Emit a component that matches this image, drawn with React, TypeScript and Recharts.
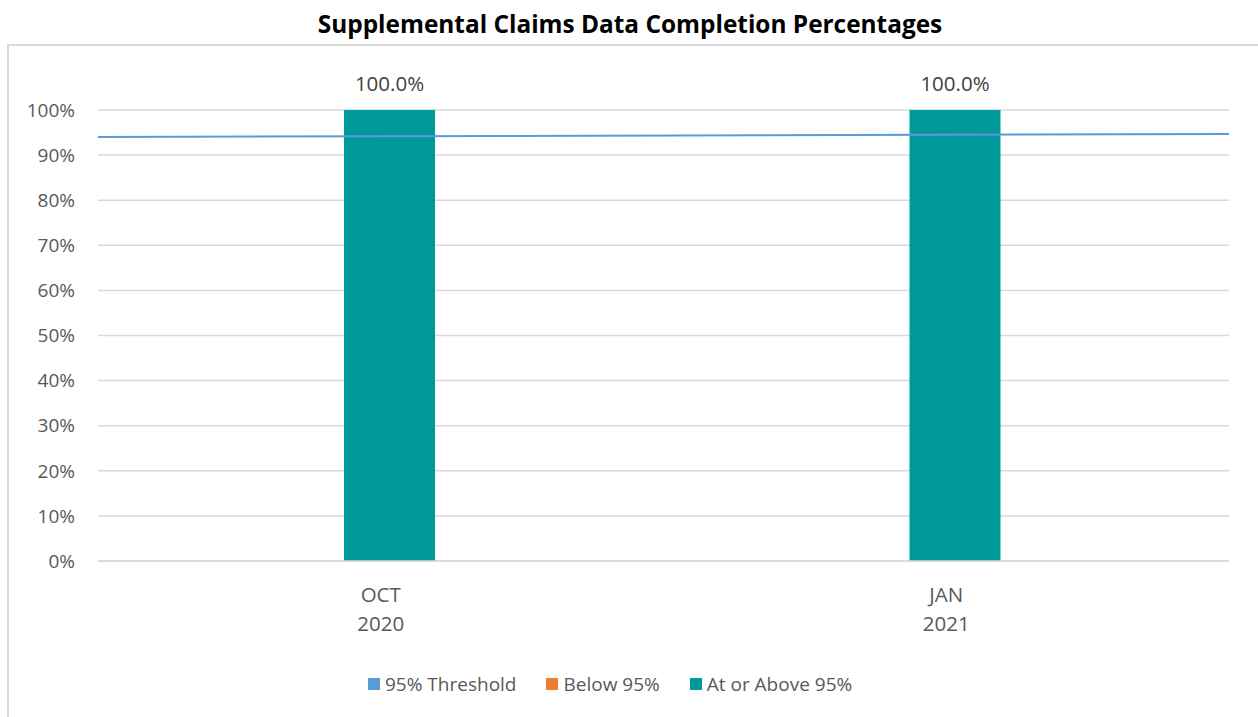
import React from 'react';
import { ComposedChart, Bar, XAxis, YAxis, CartesianGrid, LabelList, ReferenceLine } from 'recharts';

const months = ['OCT', 'JAN'];
const years = ['2020', '2021'];
const belowValues = [0, 0];
const atOrAboveValues = [100.0, 100.0];
// threshold line runs from left to right edge of the plot
const thresholdEnds = [94.0, 94.7];
const yTicks = [0, 10, 20, 30, 40, 50, 60, 70, 80, 90, 100];

const legendItems = [
    { name: '95% Threshold', color: '#5B9BD5' },
    { name: 'Below 95%', color: '#ED7D31' },
    { name: 'At or Above 95%', color: '#009999' },
];

const FONT = '"Open Sans", sans-serif';
const TEXT = '#595959';

const data = months.map((m, i) => ({
    month: m,
    year: years[i],
    label: `${m} ${years[i]}`,
    below: belowValues[i],
    above: atOrAboveValues[i],
}));

const CategoryTick: React.FC<any> = ({ x, y, payload }) => {
    const [m, yr] = String(payload.value).split(' ');
    return (
        <text x={x} y={y} textAnchor="middle" fill={TEXT} fontSize={20.5} fontFamily={FONT}>
            <tspan x={x} dy={39}>{m}</tspan>
            <tspan x={x} dy={29}>{yr}</tspan>
        </text>
    );
};

export default function App() {
    return (
        <div style={{ position: 'absolute', left: 0, top: 0, width: 1258, height: 717, background: '#fff', fontFamily: FONT, overflow: 'hidden' }}>
            <div style={{ position: 'absolute', left: 7, top: 44, width: 1260, height: 700, borderLeft: '2px solid #d9d9d9', borderTop: '2px solid #d9d9d9' }} />
            <div style={{ position: 'absolute', left: 0, top: 7, width: 1260, textAlign: 'center', fontWeight: 700, fontSize: 24.4, color: '#000' }}>
                Supplemental Claims Data Completion Percentages
            </div>
            <div style={{ position: 'absolute', left: 0, top: 0 }}>
                <ComposedChart width={1258} height={717} data={data} margin={{ top: 110, right: 29, bottom: 0, left: 0 }} barGap={-73}>
                    <CartesianGrid vertical={false} stroke="#d9d9d9" strokeWidth={1.5} />
                    <XAxis dataKey="label" tick={<CategoryTick />} tickLine={false} tickSize={0} axisLine={{ stroke: '#d9d9d9', strokeWidth: 1.5 }} interval={0} height={156} />
                    <XAxis xAxisId="t" type="number" domain={[0, 1]} hide />
                    <YAxis domain={[0, 100]} ticks={yTicks} tickFormatter={(v) => `${v}%`} width={98} tickSize={0} tickMargin={23}
                        axisLine={false} tickLine={false} tick={{ fill: TEXT, fontSize: 19, fontFamily: FONT }} interval={0} />
                    <Bar dataKey="below" name="Below 95%" fill="#ED7D31" barSize={91} isAnimationActive={false} />
                    <Bar dataKey="above" name="At or Above 95%" fill="#009999" barSize={91} isAnimationActive={false}>
                        <LabelList dataKey="above" position="top" offset={19} formatter={(v: any) => `${Number(v).toFixed(1)}%`}
                            style={{ fill: '#404040', fontSize: 20.5, fontFamily: FONT }} />
                    </Bar>
                    <ReferenceLine xAxisId="t" segment={[{ x: 0, y: thresholdEnds[0] }, { x: 1, y: thresholdEnds[1] }]} stroke="#5B9BD5" strokeWidth={2} />
                </ComposedChart>
            </div>
            <div style={{ position: 'absolute', left: 368, top: 671, display: 'flex', alignItems: 'center', gap: 30, fontSize: 19, color: TEXT }}>
                {legendItems.map((item) => (
                    <div key={item.name} style={{ display: 'flex', alignItems: 'center', gap: 5 }}>
                        <span style={{ width: 12, height: 12, background: item.color, display: 'inline-block' }} />
                        <span>{item.name}</span>
                    </div>
                ))}
            </div>
        </div>
    );
}
